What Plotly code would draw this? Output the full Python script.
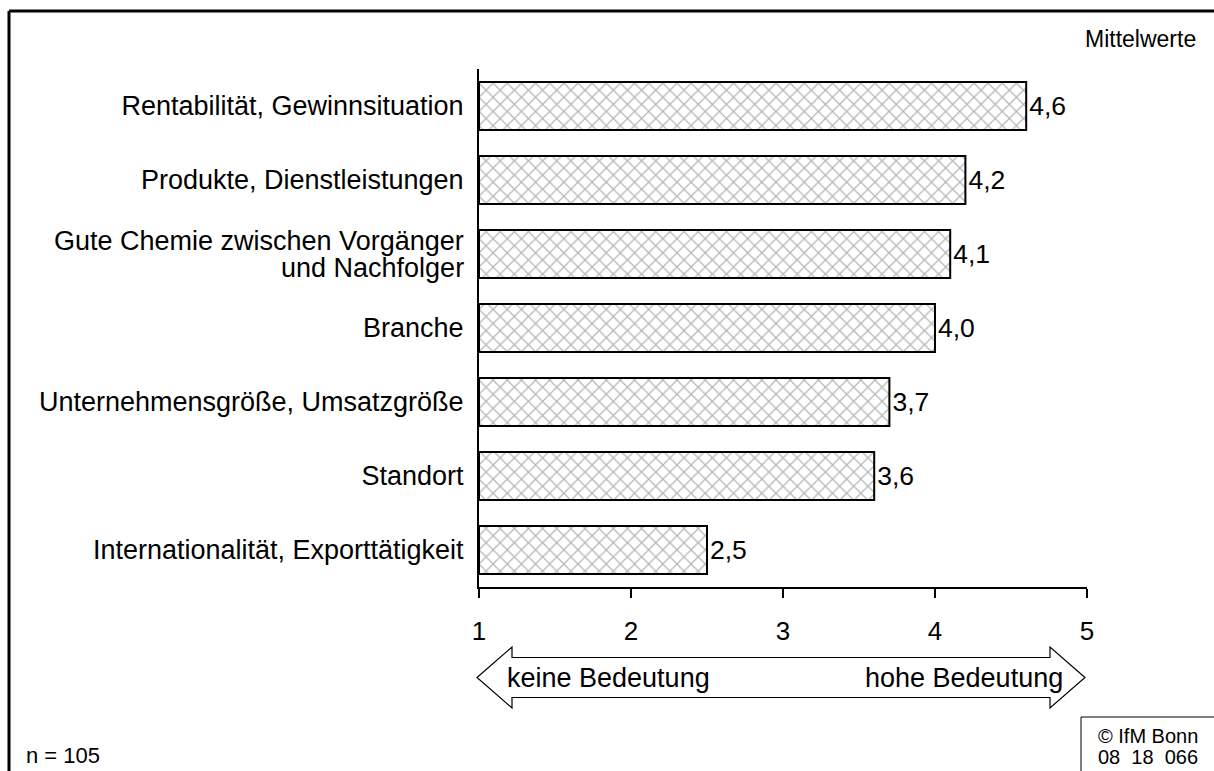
import plotly.graph_objects as go

# Mean importance ratings (1 = keine Bedeutung, 5 = hohe Bedeutung)
categories = [
    "Rentabilität, Gewinnsituation",
    "Produkte, Dienstleistungen",
    "Gute Chemie zwischen Vorgänger<br>und Nachfolger",
    "Branche",
    "Unternehmensgröße, Umsatzgröße",
    "Standort",
    "Internationalität, Exporttätigkeit",
]
means = [4.6, 4.2, 4.1, 4.0, 3.7, 3.6, 2.5]
tick_values = [1, 2, 3, 4, 5]
tick_labels = ["1", "2", "3", "4", "5"]

W, H = 1214, 771
L, R, T, B = 479, 127, 69, 184
FONT = "Liberation Sans, Arial, sans-serif"
CAT = 27     # category names and scale captions
VAL = 26.5   # value labels
TICK = 26    # scale numbers


def px(x):
    return (x - L) / (W - L - R)


def py(y):
    return (H - B - y) / (H - T - B)


labels = [f"{v:.1f}".replace(".", ",") for v in means]

fig = go.Figure(
    go.Bar(
        x=[v - 1 for v in means],  # bars start at the scale minimum 1
        y=categories,
        base=1,
        orientation="h",
        text=labels,
        textposition="outside",
        textfont=dict(size=VAL, color="black", family=FONT),
        cliponaxis=False,
        marker=dict(
            color="white",
            line=dict(color="black", width=2),
            pattern=dict(shape="x", fgcolor="#6e6e6e", bgcolor="white",
                         size=10, solidity=0.24),
        ),
        hoverinfo="skip",
    )
)

# multi-line category names are set as separate lines with tighter spacing
tick_text = ["" if "<br>" in c else c for c in categories]
annotations = []
for c in categories:
    if "<br>" in c:
        lines = c.split("<br>")
        n = len(lines)
        step = 27
        for i, line in enumerate(lines):
            annotations.append(dict(
                text=line, xref="paper", yref="y", x=px(466), y=c,
                xanchor="right", yanchor="middle",
                yshift=(n - 1) / 2 * step - i * step,
                font=dict(size=CAT), showarrow=False,
            ))

fig.update_layout(
    width=W,
    height=H,
    margin=dict(l=L, r=R, t=T, b=B, pad=0),
    paper_bgcolor="white",
    plot_bgcolor="white",
    bargap=0.35,
    showlegend=False,
    font=dict(family=FONT, size=CAT, color="black"),
    xaxis=dict(
        range=[1, 5],
        tickvals=tick_values,
        ticktext=tick_labels,
        showline=True,
        linecolor="black",
        linewidth=2,
        ticks="outside",
        ticklen=9,
        tickwidth=2,
        tickcolor="black",
        showgrid=False,
        zeroline=False,
        ticklabelstandoff=11,
        tickfont=dict(size=TICK),
    ),
    yaxis=dict(
        autorange="reversed",
        tickmode="array",
        tickvals=categories,
        ticktext=tick_text,
        showline=True,
        linecolor="black",
        linewidth=2,
        ticks="",
        showgrid=False,
        zeroline=False,
        ticklabelstandoff=8,
        tickfont=dict(size=CAT),
    ),
)

shapes = []
# outer frame (top and left edges)
shapes.append(dict(type="line", xref="paper", yref="paper",
                   x0=px(9), x1=px(1230), y0=py(11), y1=py(11),
                   line=dict(color="black", width=3)))
shapes.append(dict(type="line", xref="paper", yref="paper",
                   x0=px(9), x1=px(9), y0=py(11), y1=py(790),
                   line=dict(color="black", width=3)))
# copyright box
shapes.append(dict(type="rect", xref="paper", yref="paper",
                   x0=px(1081), x1=px(1230), y0=py(717), y1=py(790),
                   line=dict(color="black", width=1), fillcolor="white"))

# hollow double arrow under the scale
xl, xr = 477, 1085
hb = 35
yc, yh, ys = 677.5, 30.5, 20
pts = [
    (xl, yc), (xl + hb, yc - yh), (xl + hb, yc - ys), (xr - hb, yc - ys),
    (xr - hb, yc - yh), (xr, yc), (xr - hb, yc + yh), (xr - hb, yc + ys),
    (xl + hb, yc + ys), (xl + hb, yc + yh),
]
path = "M " + " L ".join(f"{px(x):.5f},{py(y):.5f}" for x, y in pts) + " Z"
shapes.append(dict(type="path", xref="paper", yref="paper", path=path,
                   line=dict(color="black", width=1.2), fillcolor="white"))
fig.update_layout(shapes=shapes)

notes = [
    dict(text="keine Bedeutung", x=px(505), y=py(678), xanchor="left",
         yanchor="middle", font=dict(size=CAT)),
    dict(text="hohe Bedeutung", x=px(1065), y=py(678), xanchor="right",
         yanchor="middle", font=dict(size=CAT)),
    dict(text="Mittelwerte", x=px(1198), y=py(39), xanchor="right",
         yanchor="middle", font=dict(size=23)),
    dict(text="n = 105", x=px(24), y=py(755), xanchor="left",
         yanchor="middle", font=dict(size=22)),
    dict(text="© IfM Bonn", x=px(1096), y=py(736), xanchor="left",
         yanchor="middle", font=dict(size=20)),
    dict(text="08  18  066", x=px(1096), y=py(757), xanchor="left",
         yanchor="middle", font=dict(size=20)),
]
for a in notes:
    a.update(xref="paper", yref="paper", showarrow=False)
fig.update_layout(annotations=annotations + notes)

fig.write_html("out.html")
